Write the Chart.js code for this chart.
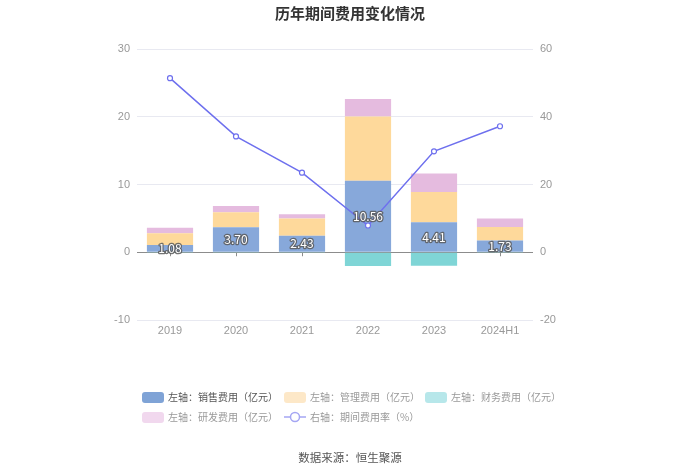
<!DOCTYPE html>
<html><head><meta charset="utf-8">
<script src="https://cdn.jsdelivr.net/npm/chart.js@4/dist/chart.umd.min.js"></script>
<style>
html,body{margin:0;padding:0;background:#fff;}
#wrap{position:relative;width:700px;height:473px;font-family:"Noto Sans CJK SC","Noto Sans",sans-serif;}
#title{position:absolute;left:0;top:2px;width:700px;text-align:center;font-size:15px;font-weight:bold;color:#333;}
#source{position:absolute;left:0;top:449px;width:700px;text-align:center;font-size:11.5px;color:#555;}
.lg{position:absolute;font-size:10px;color:#999;white-space:nowrap;line-height:14px;}
.lg .box{display:inline-block;width:22px;height:11px;border-radius:3px;vertical-align:-2px;margin-right:4px;}
canvas{position:absolute;left:0;top:0;}
</style></head>
<body><div id="wrap">
<canvas id="c" width="700" height="473"></canvas>
<div id="title">历年期间费用变化情况</div>
<div id="legend"></div>
<div id="source">数据来源：恒生聚源</div>
</div>
<script>
const categories = ["2019","2020","2021","2022","2023","2024H1"];
const salesExp = [1.08, 3.70, 2.43, 10.56, 4.41, 1.73];
const mgmtExp = [1.72, 2.20, 2.57, 9.46, 4.50, 2.00];
const finExp = [-0.02, -0.03, -0.02, -2.03, -1.98, -0.05];
const rdExp = [0.80, 0.94, 0.60, 2.60, 2.70, 1.25];
const expRate = [51.4, 34.2, 23.5, 7.9, 29.8, 37.2];
const leftTicks = [-10, 0, 10, 20, 30];
const rightTicks = [-20, 0, 20, 40, 60];

const labelPlugin = {
  id: 'salesLabels',
  beforeDatasetsDraw(chart) {
    // small category ticks under the zero line
    const ctx = chart.ctx, x = chart.scales.x, y0 = chart.scales.y.getPixelForValue(0);
    ctx.save();
    ctx.strokeStyle = '#8c8c8c'; ctx.lineWidth = 1;
    categories.forEach((c, i) => {
      const px = Math.round(x.getPixelForValue(i)) + 0.5;
      ctx.beginPath(); ctx.moveTo(px, y0); ctx.lineTo(px, y0 + 4); ctx.stroke();
    });
    ctx.restore();
  },
  afterDatasetsDraw(chart) {
    const ctx = chart.ctx;
    const meta = chart.getDatasetMeta(0);
    ctx.save();
    ctx.font = '12px "Noto Sans CJK SC", sans-serif';
    ctx.textAlign = 'center';
    ctx.textBaseline = 'middle';
    ctx.lineWidth = 2.5;
    ctx.lineJoin = 'round';
    ctx.strokeStyle = 'rgba(90,90,90,0.85)';
    ctx.fillStyle = '#fff';
    meta.data.forEach((bar, i) => {
      const y = (bar.y + bar.base) / 2;
      const t = salesExp[i].toFixed(2);
      ctx.strokeText(t, bar.x, y);
      ctx.fillText(t, bar.x, y);
    });
    ctx.restore();
  }
};

const gridColor = (c) => c.tick && c.tick.value === 0 ? '#8c8c8c' : '#e8e9f1';

const chart = new Chart(document.getElementById('c'), {
  data: {
    labels: categories,
    datasets: [
      {type:'bar', label:'左轴：销售费用（亿元）', data:salesExp, backgroundColor:'#87a8da', stack:'s', yAxisID:'y', order:1},
      {type:'bar', label:'左轴：管理费用（亿元）', data:mgmtExp, backgroundColor:'#fed99b', stack:'s', yAxisID:'y', order:1},
      {type:'bar', label:'左轴：财务费用（亿元）', data:finExp, backgroundColor:'#7fd5d6', stack:'s', yAxisID:'y', order:1},
      {type:'bar', label:'左轴：研发费用（亿元）', data:rdExp, backgroundColor:'#e5bbdf', stack:'s', yAxisID:'y', order:1},
      {type:'line', label:'右轴：期间费用率（%）', data:expRate, borderColor:'#6e70ee', backgroundColor:'#fff', borderWidth:1.5,
       pointRadius:2.5, pointBorderWidth:1.2, pointBackgroundColor:'#fff', pointBorderColor:'#6e70ee', yAxisID:'y1', order:0, tension:0}
    ]
  },
  options: {
    responsive:false, animation:false,
    layout:{padding:{top:49}},
    plugins:{legend:{display:false}, tooltip:{enabled:false}},
    datasets:{bar:{categoryPercentage:0.7, barPercentage:1}},
    scales:{
      x:{stacked:true, grid:{display:false, drawTicks:false},
         border:{display:false},
         ticks:{color:'#999', font:{size:11}, padding:4},
         afterFit(s){ s.height = 473-320; }},
      y:{stacked:true, position:'left', min:-10, max:30, afterBuildTicks(s){ s.ticks = leftTicks.map(v=>({value:v})); },
         grid:{color:gridColor, drawTicks:false, lineWidth:1},
         border:{display:false},
         ticks:{color:'#999', font:{size:11}, padding:7},
         afterFit(s){ s.width = 137; }},
      y1:{position:'right', min:-20, max:60, afterBuildTicks(s){ s.ticks = rightTicks.map(v=>({value:v})); },
         grid:{drawOnChartArea:false, drawTicks:false},
         border:{display:false},
         ticks:{color:'#999', font:{size:11}, padding:7},
         afterFit(s){ s.width = 700-533; }}
    }
  },
  plugins:[labelPlugin]
});

// HTML legend
const legendColors = ['#7fa3d6','#fde8c8','#b7e7ea','#f1d8ee'];
const legendPos = [[142,390],[284,390],[425,390],[142,410],[284,410]];
const lg = document.getElementById('legend');
chart.data.datasets.forEach((ds, i) => {
  const d = document.createElement('div');
  d.className = 'lg';
  d.style.left = legendPos[i][0] + 'px';
  d.style.top = legendPos[i][1] + 'px';
  if (i === 0) d.style.color = '#555';
  if (ds.type === 'bar') {
    d.innerHTML = '<span class="box" style="background:'+legendColors[i]+'"></span>' + ds.label;
  } else {
    d.innerHTML = '<svg width="22" height="12" style="vertical-align:-2px;margin-right:4px"><line x1="0" y1="6" x2="22" y2="6" stroke="#a5a6f3" stroke-width="1.5"/><circle cx="11" cy="6" r="4.5" fill="#fff" stroke="#a5a6f3" stroke-width="1.5"/></svg>' + ds.label;
  }
  lg.appendChild(d);
});
</script>
</body></html>
